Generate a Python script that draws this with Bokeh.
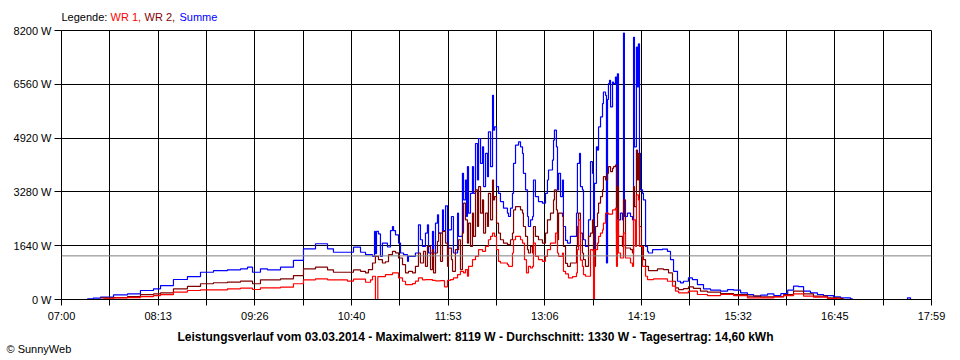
import math
from bokeh.plotting import figure
from bokeh.layouts import column
from bokeh.models import (Range1d, FixedTicker, CustomJSTickFormatter,
                          PrintfTickFormatter, Span, Title)
from bokeh.core.properties import value
from bokeh.embed import file_html
from bokeh.resources import INLINE

# ---------------- data (time = minutes after 07:00, power in W) ----------------
x_labels = ["07:00", "08:13", "09:26", "10:40", "11:53", "13:06", "14:19", "15:32", "16:45", "17:59"]
x_span_min = 659          # 07:00 .. 17:59
y_ticks = [0, 1640, 3280, 4920, 6560, 8200]
avg_w = 1330

legend_words = ["Legende:", "WR 1,", "WR 2,", "Summe"]
series_colors = ["black", "#ff0000", "#800000", "#0000ff"]

t_sum = [19.5, 24.0, 29.5, 39.4, 50.0, 59.8, 69.7, 75.0, 84.8, 95.4, 105.3, 115.1, 125.7, 135.6, 140.9, 144.7,
         150.7, 156.0, 165.9, 175.7, 183.3, 192.4, 201.5, 206.0, 216.6, 221.2, 226.5, 230.3, 234.1, 235.6, 237.1,
         237.8, 238.6, 240.1, 241.6, 243.1, 245.4, 246.9, 249.2, 250.7, 251.5, 253.0, 255.3, 256.8, 259.1, 262.1,
         262.8, 265.9, 268.1, 270.4, 271.9, 273.4, 275.7, 277.2, 278.0, 281.0, 281.8, 283.3, 284.8, 285.6, 288.6,
         289.3, 290.9, 292.4, 293.1, 295.4, 296.9, 300.0, 300.7, 303.7, 304.5, 306.0, 306.8, 307.5, 308.3, 309.8,
         311.3, 312.1, 313.6, 315.1, 315.9, 317.4, 318.9, 319.7, 321.2, 322.7, 323.4, 325.0, 326.5, 327.2, 328.0,
         329.5, 331.0, 332.5, 334.8, 337.8, 338.6, 340.1, 341.6, 342.4, 343.9, 346.2, 347.7, 349.2, 349.9, 351.5,
         353.0, 353.7, 355.3, 356.8, 357.5, 359.0, 361.3, 364.3, 366.6, 368.1, 368.9, 371.9, 372.7, 373.4, 374.9,
         375.7, 376.5, 378.0, 379.5, 380.2, 381.8, 383.3, 385.5, 387.8, 390.1, 390.8, 392.4, 393.1, 394.6, 395.4,
         396.9, 398.4, 399.2, 400.7, 402.2, 403.0, 403.7, 405.2, 406.0, 406.8, 408.3, 409.8, 410.5, 412.1, 412.8,
         413.6, 414.3, 415.1, 415.9, 417.4, 418.1, 419.6, 420.4, 421.1, 421.9, 423.4, 424.9, 425.7, 426.4, 428.7,
         431.0, 432.5, 433.3, 434.0, 435.5, 436.3, 437.0, 437.8, 438.6, 440.1, 440.8, 442.4, 443.9, 444.6, 447.7,
         452.2, 455.2, 459.0, 461.3, 463.6, 466.6, 468.9, 471.1, 474.9, 477.9, 481.7, 486.3, 491.6, 499.2, 504.5,
         509.1, 514.4, 519.6, 524.2, 529.5, 534.8, 539.6, 544.9, 550.1, 554.5, 558.3, 562.1, 567.3, 572.6, 577.2,
         584.8, 590.1, 597.6, 599.1, 620.0, 640.0, 640.8, 643.1]
p_sum = [20, 40, 70, 140, 170, 275, 325, 425, 610, 700, 830, 880, 905, 935, 985, 830,
         935, 905, 985, 1190, 1545, 1700, 1545, 1440, 1440, 1595, 1440, 1366, 1366, 1315, 2075,
         1400, 2075, 2000, 1315, 1720, 1720, 1600, 2100, 2226, 2100, 1973, 1720, 1417, 1366, 1164,
         1315, 1315, 1417, 2277, 1822, 1619, 2024, 2277, 1417, 2075, 1417, 2328, 2580, 2024, 2732,
         2100, 2854, 1315, 2125, 2530, 1417, 2631, 1923, 3846, 3036, 3643, 2530, 4048, 2631, 3238,
         4048, 3238, 4756, 3643, 4908, 4149, 4655, 3441, 4453, 3744, 5111, 4048, 6224, 5161, 5262,
         3441, 3238, 2985, 2783, 2631, 2530, 2783, 3238, 4149, 4706, 4807, 4655, 4453, 3846, 3340,
         2530, 2226, 2429, 2530, 3643, 3137, 2985, 2935, 3238, 3643, 3947, 4250, 4858, 5161, 4655,
         3340, 3846, 3137, 3643, 2226, 1800, 1720, 1923, 1923, 2631, 4149, 4453, 3441, 3340, 1822,
         1619, 1619, 2429, 4200, 3846, 1518, 3542, 4655, 4555, 5262, 5566, 5971, 6325, 6224, 1113,
         6100, 6578, 6679, 5870, 6629, 6578, 6780, 2024, 6882, 2429, 2631, 2429, 8119, 2530, 2631,
         2530, 2429, 7995, 4655, 7691, 6477, 7792, 4453, 3340, 3238, 3036, 1619, 1467, 1417, 1518,
         1520, 1538, 1467, 1214, 860, 557, 506, 557, 658, 607, 455, 324, 283, 253, 304,
         283, 202, 152, 101, 132, 172, 121, 182, 283, 405, 390, 253, 202, 152, 121,
         81, 51, 20, 0, float("nan"), 0, 50, 0]

t_wr2 = [29.5, 39.4, 50.0, 59.8, 69.7, 75.0, 84.8, 95.4, 105.3, 115.1, 125.7, 135.6, 144.7, 150.7, 165.9,
         175.7, 183.3, 192.4, 201.5, 206.0, 216.6, 221.2, 226.5, 230.3, 232.5, 235.6, 237.8, 240.1, 243.1, 245.4,
         247.7, 250.7, 253.0, 255.3, 258.3, 260.6, 262.8, 265.9, 268.1, 270.4, 271.9, 274.2, 275.7, 277.2, 279.5,
         281.0, 281.8, 283.3, 284.8, 285.6, 287.1, 288.6, 290.9, 292.4, 293.1, 295.4, 296.2, 298.4, 300.7, 302.2,
         303.7, 304.5, 306.0, 307.5, 308.3, 309.8, 311.3, 312.1, 313.6, 315.1, 315.9, 317.4, 318.9, 319.7, 321.2,
         322.7, 323.4, 325.0, 326.5, 327.2, 328.0, 329.5, 331.0, 332.5, 334.8, 337.8, 340.1, 341.6, 342.4, 343.9,
         347.7, 349.2, 349.9, 351.5, 353.0, 353.7, 355.3, 356.8, 357.5, 359.0, 361.3, 364.3, 366.6, 368.1, 370.4,
         372.7, 373.4, 374.9, 375.7, 376.5, 379.5, 380.2, 381.8, 383.3, 385.5, 387.8, 390.1, 390.8, 391.6, 393.1,
         394.6, 395.4, 396.9, 398.4, 399.2, 400.7, 402.2, 403.0, 404.5, 406.0, 406.8, 408.3, 409.8, 410.5, 412.1,
         413.6, 414.3, 415.9, 417.4, 418.1, 419.6, 420.4, 421.1, 421.9, 424.9, 425.7, 427.2, 431.0, 432.5, 433.3,
         434.0, 435.5, 436.3, 437.0, 437.8, 439.3, 440.8, 442.4, 444.6, 451.4, 456.0, 459.8, 462.8, 465.1, 467.4,
         471.1, 474.9, 478.7, 484.0, 489.3, 499.2, 509.1, 519.6, 529.5, 539.6, 547.0, 554.5, 562.1, 569.6, 580.2,
         590.1, 592.0]
p_wr2 = [50, 60, 90, 150, 170, 200, 325, 400, 480, 510, 530, 560, 480, 600, 630,
         730, 935, 985, 905, 830, 830, 905, 860, 810, 911, 1113, 1315, 1214, 1113, 1150,
         1366, 1467, 1420, 1265, 1063, 810, 860, 810, 1012, 1417, 1113, 1467, 1012, 1619, 911,
         1518, 810, 1417, 1771, 2024, 1164, 2075, 1720, 1012, 1569, 1214, 860, 1518, 1822, 911,
         2024, 2935, 2429, 1720, 2328, 1619, 2631, 1923, 3340, 2226, 3441, 2631, 3036, 2024, 2631,
         2226, 3238, 2429, 3643, 3036, 3137, 2328, 2024, 1822, 1720, 1670, 1822, 2024, 2732, 2834,
         2732, 2631, 2226, 1923, 1518, 1417, 1620, 1417, 2226, 1923, 1822, 1720, 2024, 2429, 2631,
         3036, 3340, 2730, 1822, 2631, 2530, 1619, 1100, 1012, 1113, 1113, 1619, 2226, 2631, 2024,
         1417, 1214, 1012, 1012, 1923, 2024, 2429, 1012, 2226, 2631, 2935, 3137, 3340, 3744, 3643,
         3846, 4048, 3900, 3997, 4048, 4099, 1417, 3441, 1923, 1619, 3036, 1570, 1518, 1417, 3441,
         2834, 4554, 3643, 4453, 2226, 1619, 1214, 1012, 880, 931, 911, 810, 557, 354, 304,
         330, 385, 340, 253, 223, 182, 152, 101, 81, 90, 152, 253, 170, 101, 51,
         30, 0]

t_wr1 = [31.8, 39.4, 50.0, 59.8, 69.7, 75.0, 84.8, 95.4, 105.3, 125.7, 135.6, 144.7, 150.7, 165.9, 175.7,
         183.3, 192.4, 201.5, 216.6, 221.2, 230.3, 234.1, 235.6, 237.8, 239.6, 245.4, 250.7, 255.3, 258.3, 260.6,
         265.9, 268.1, 270.4, 273.4, 275.7, 281.0, 283.3, 287.1, 290.1, 292.4, 294.6, 296.9, 300.0, 302.2, 304.5,
         306.0, 307.5, 308.3, 311.3, 313.6, 315.9, 318.9, 321.2, 323.4, 325.0, 326.5, 328.0, 329.5, 331.0, 332.5,
         337.8, 338.6, 341.6, 342.4, 343.9, 347.7, 349.2, 350.7, 352.2, 353.7, 355.3, 356.8, 357.5, 359.0, 361.3,
         364.3, 366.6, 368.1, 370.4, 372.7, 374.2, 375.7, 376.5, 379.5, 380.2, 381.8, 384.0, 387.1, 390.1, 390.8,
         391.6, 393.1, 394.6, 395.4, 396.9, 399.2, 400.7, 402.2, 403.0, 403.7, 404.5, 406.0, 406.8, 408.3, 409.8,
         410.5, 412.1, 414.3, 417.4, 419.6, 420.4, 421.1, 421.9, 423.4, 425.7, 427.2, 431.0, 432.5, 433.3, 434.8,
         435.5, 437.0, 437.8, 440.1, 442.4, 443.9, 448.4, 453.7, 459.0, 462.8, 465.1, 467.4, 474.9, 481.7, 489.3,
         499.2, 509.1, 519.6, 529.5, 539.6, 547.0, 554.5, 562.1, 569.6, 580.2, 587.8, 590.0]
p_wr1 = [20, 50, 60, 90, 120, 150, 225, 275, 295, 325, 345, 305, 355, 375, 480,
         600, 630, 600, 560, 620, 526, 600, 708, 0, 700, 759, 810, 658, 557, 455,
         486, 560, 658, 600, 607, 580, 570, 575, 385, 580, 607, 658, 759, 860, 810,
         911, 708, 1012, 1214, 1315, 1518, 1470, 1619, 1822, 1923, 2024, 1923, 1518, 1164, 1113,
         1063, 1012, 1417, 1822, 1923, 1822, 1720, 1214, 810, 1012, 960, 1012, 1720, 1315, 1214,
         1164, 1315, 1518, 1720, 1720, 2024, 1417, 1315, 1417, 860, 780, 658, 700, 810, 1518,
         2429, 1200, 1012, 760, 708, 708, 1518, 1500, 0, 1518, 1518, 1720, 1923, 2024, 2125,
         2328, 2631, 2600, 2732, 2783, 1012, 2429, 1417, 1265, 2024, 1265, 1113, 1012, 2429, 1619,
         3188, 3036, 1619, 1012, 708, 607, 627, 627, 557, 405, 253, 202, 253, 152, 121,
         152, 121, 51, 51, 81, 121, 172, 101, 71, 30, 20, 0]

assert len(t_sum) == len(p_sum), (len(t_sum), len(p_sum))
assert len(t_wr2) == len(p_wr2), (len(t_wr2), len(p_wr2))
assert len(t_wr1) == len(p_wr1), (len(t_wr1), len(p_wr1))

title_text = ("Leistungsverlauf vom 03.03.2014 - Maximalwert: 8119 W - "
              "Durchschnitt: 1330 W - Tagesertrag: 14,60 kWh")
copyright_text = "\u00a9 SunnyWeb"

FONT = "Liberation Sans"
W = 960
FRAME_L, FRAME_R = 61, 931   # page pixels of the chart frame (strip frames align to it)
TOP_H = 24

# ---------------- legend strip (top) ----------------
top = figure(width=W, height=TOP_H, output_backend="svg", toolbar_location=None, tools="",
             x_range=Range1d(FRAME_L, FRAME_R), y_range=Range1d(0, TOP_H),
             x_axis_type=None, y_axis_type=None,
             min_border_left=0, min_border_right=0, min_border_top=0, min_border_bottom=0,
             background_fill_color="white", border_fill_color="white")
top.outline_line_color = None
top.xgrid.visible = False
top.ygrid.visible = False
top.text(x=[61, 110, 144, 179], y=[TOP_H - 16.5] * 4, text=legend_words, text_color=series_colors,
         text_font=value(FONT), text_font_size="11px", text_baseline="middle", text_align="left")

# ---------------- main chart ----------------
p = figure(width=W, height=360 - TOP_H, output_backend="svg", toolbar_location=None, tools="",
           x_range=Range1d(0, x_span_min), y_range=Range1d(0, y_ticks[-1]),
           min_border_left=FRAME_L, min_border_right=W - FRAME_R, min_border_top=30 - TOP_H,
           min_border_bottom=61, background_fill_color="white", border_fill_color="white")
p.outline_line_color = "black"

grid_step = x_span_min / 18.0
major = [i * 2 * grid_step for i in range(len(x_labels))]
minor = [(2 * i + 1) * grid_step for i in range(9)]
p.xaxis.ticker = FixedTicker(ticks=major, minor_ticks=minor)
p.xaxis.formatter = CustomJSTickFormatter(args=dict(labels=x_labels, step=2 * grid_step),
                                          code="return labels[Math.round(tick/step)];")
p.yaxis.ticker = FixedTicker(ticks=y_ticks, minor_ticks=[])
p.yaxis.formatter = PrintfTickFormatter(format="%d W")

for ax in (p.xaxis[0], p.yaxis[0]):
    ax.axis_line_color = "black"
    ax.major_tick_line_color = "black"
    ax.minor_tick_line_color = "black"
    ax.major_tick_in = 0
    ax.minor_tick_in = 0
    ax.major_label_text_font = FONT
    ax.major_label_text_font_size = "11px"
    ax.major_label_text_color = "black"
p.xaxis.major_tick_out = 6
p.xaxis.minor_tick_out = 6
p.xaxis.major_label_standoff = 4
p.yaxis.major_tick_out = 7
p.yaxis.major_label_standoff = 3

p.xgrid.grid_line_color = "black"
p.xgrid.minor_grid_line_color = "black"
p.ygrid.grid_line_color = "black"


def draw_step(ts, ps, color):
    seg_t, seg_p = [], []
    for t, v in zip(ts, ps):
        if isinstance(v, float) and math.isnan(v):
            if seg_t:
                p.step(seg_t, seg_p, mode="after", line_color=color, line_width=1.2)
            seg_t, seg_p = [], []
        else:
            seg_t.append(t)
            seg_p.append(v)
    if seg_t:
        p.step(seg_t, seg_p, mode="after", line_color=color, line_width=1.2)


draw_step(t_sum, p_sum, series_colors[3])
draw_step(t_wr2, p_wr2, series_colors[2])
draw_step(t_wr1, p_wr1, series_colors[1])

p.add_layout(Span(location=avg_w, dimension="width", line_color="#808080", line_width=1, level="overlay"))

# captions below the x axis
p.add_layout(Title(text=title_text, align="left", offset=177 - FRAME_L, standoff=6,
                   text_font=FONT, text_font_size="12px", text_font_style="bold",
                   text_color="black"), "below")
p.add_layout(Title(text=copyright_text, align="left", offset=6 - FRAME_L, standoff=-12,
                   text_font=FONT, text_font_size="11px", text_font_style="normal",
                   text_color="black"), "below")

layout = column(top, p, spacing=0)
open("out.html", "w").write(file_html(layout, INLINE))
